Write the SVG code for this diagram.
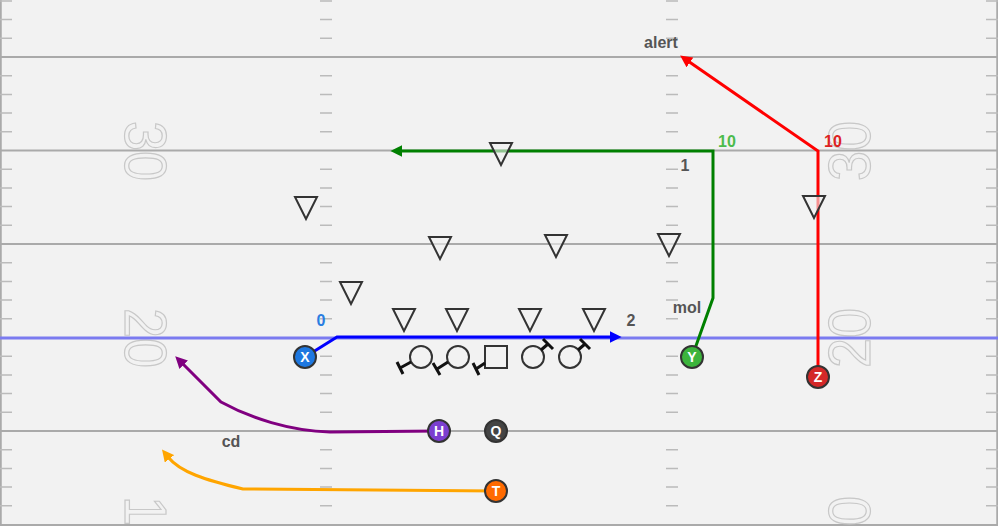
<svg xmlns="http://www.w3.org/2000/svg" width="998" height="526" viewBox="0 0 998 526">
<defs>
<style>
.yard{stroke:#aaaaaa;stroke-width:2;fill:none}
.tick{stroke:#bbbbbb;stroke-width:1.5;fill:none}
.num{font-family:"Liberation Sans",Arial,sans-serif;font-size:60px;fill:none;stroke:#c8c8c8;stroke-width:1.2}
.lbl{font-family:"Liberation Sans",Arial,sans-serif;font-size:16px;font-weight:bold;fill:#555555}
.pl{stroke:#333333;stroke-width:2}
.pt{font-family:"Liberation Sans",Arial,sans-serif;font-size:14px;font-weight:bold;fill:#ffffff;text-anchor:middle}
.ol{fill:none;stroke:#333333;stroke-width:2}
.blk{fill:none;stroke:#111111;stroke-width:3}
.def{fill:#f2f2f2;fill-opacity:0.6;stroke:#333333;stroke-width:2;stroke-linejoin:miter}
.route{fill:none;stroke-width:3;stroke-linejoin:miter}
</style>
<marker id="ab" viewBox="0 0 10 10" refX="2" refY="5" markerWidth="4" markerHeight="4" orient="auto" markerUnits="strokeWidth"><path d="M0,0 L10,5 L0,10 z" fill="#0000ff"/></marker>
<marker id="ag" viewBox="0 0 10 10" refX="2" refY="5" markerWidth="4" markerHeight="4" orient="auto" markerUnits="strokeWidth"><path d="M0,0 L10,5 L0,10 z" fill="#008000"/></marker>
<marker id="ar" viewBox="0 0 10 10" refX="2" refY="5" markerWidth="4" markerHeight="4" orient="auto" markerUnits="strokeWidth"><path d="M0,0 L10,5 L0,10 z" fill="#ff0000"/></marker>
<marker id="ap" viewBox="0 0 10 10" refX="2" refY="5" markerWidth="4" markerHeight="4" orient="auto" markerUnits="strokeWidth"><path d="M0,0 L10,5 L0,10 z" fill="#800080"/></marker>
<marker id="ao" viewBox="0 0 10 10" refX="2" refY="5" markerWidth="4" markerHeight="4" orient="auto" markerUnits="strokeWidth"><path d="M0,0 L10,5 L0,10 z" fill="#ffa500"/></marker>
</defs>
<g id="field">
<rect x="0" y="0" width="998" height="526" fill="#f2f2f2"/>
<path class="yard" d="M0,57 H998 M0,150.5 H998 M0,244 H998 M0,431 H998 M0,525 H998 M0.75,0 V526 M997.25,0 V526"/>
<path class="tick" d="M0,0.9 h12 M0,19.6 h12 M0,38.3 h12 M0,75.7 h12 M0,94.4 h12 M0,113.1 h12 M0,131.8 h12 M0,169.2 h12 M0,187.9 h12 M0,206.6 h12 M0,225.3 h12 M0,262.7 h12 M0,281.4 h12 M0,300.1 h12 M0,318.8 h12 M0,356.2 h12 M0,374.9 h12 M0,393.6 h12 M0,412.3 h12 M0,449.7 h12 M0,468.4 h12 M0,487.1 h12 M0,505.8 h12
M320,0.9 h12 M320,19.6 h12 M320,38.3 h12 M320,75.7 h12 M320,94.4 h12 M320,113.1 h12 M320,131.8 h12 M320,169.2 h12 M320,187.9 h12 M320,206.6 h12 M320,225.3 h12 M320,262.7 h12 M320,281.4 h12 M320,300.1 h12 M320,318.8 h12 M320,356.2 h12 M320,374.9 h12 M320,393.6 h12 M320,412.3 h12 M320,449.7 h12 M320,468.4 h12 M320,487.1 h12 M320,505.8 h12
M666,0.9 h12 M666,19.6 h12 M666,38.3 h12 M666,75.7 h12 M666,94.4 h12 M666,113.1 h12 M666,131.8 h12 M666,169.2 h12 M666,187.9 h12 M666,206.6 h12 M666,225.3 h12 M666,262.7 h12 M666,281.4 h12 M666,300.1 h12 M666,318.8 h12 M666,356.2 h12 M666,374.9 h12 M666,393.6 h12 M666,412.3 h12 M666,449.7 h12 M666,468.4 h12 M666,487.1 h12 M666,505.8 h12
M986,0.9 h12 M986,19.6 h12 M986,38.3 h12 M986,75.7 h12 M986,94.4 h12 M986,113.1 h12 M986,131.8 h12 M986,169.2 h12 M986,187.9 h12 M986,206.6 h12 M986,225.3 h12 M986,262.7 h12 M986,281.4 h12 M986,300.1 h12 M986,318.8 h12 M986,356.2 h12 M986,374.9 h12 M986,393.6 h12 M986,412.3 h12 M986,449.7 h12 M986,468.4 h12 M986,487.1 h12 M986,505.8 h12"/>
<text class="num" transform="translate(125,151) rotate(90)" text-anchor="middle" textLength="60" lengthAdjust="spacingAndGlyphs">30</text>
<text class="num" transform="translate(125,338) rotate(90)" text-anchor="middle" textLength="60" lengthAdjust="spacingAndGlyphs">20</text>
<text class="num" transform="translate(125,526) rotate(90)" text-anchor="middle" textLength="60" lengthAdjust="spacingAndGlyphs">10</text>
<text class="num" transform="translate(870,151) rotate(-90)" text-anchor="middle" textLength="60" lengthAdjust="spacingAndGlyphs">30</text>
<text class="num" transform="translate(870,338) rotate(-90)" text-anchor="middle" textLength="60" lengthAdjust="spacingAndGlyphs">20</text>
<text class="num" transform="translate(870,526) rotate(-90)" text-anchor="middle" textLength="60" lengthAdjust="spacingAndGlyphs">10</text>
<line x1="0" y1="338" x2="998" y2="338" stroke="#7b7bf0" stroke-width="3"/>
</g>
<g id="connectors">
<path id="route-x" class="route" stroke="#0000ff" d="M305,357 L337,337 L612,337" marker-end="url(#ab)"/>
<path id="route-y" class="route" stroke="#008000" d="M692,357 L713,298 L713,151 L400,151" marker-end="url(#ag)"/>
<path id="route-z" class="route" stroke="#ff0000" d="M818,377 L818,151 L688,61" marker-end="url(#ar)"/>
<path id="route-h" class="route" stroke="#800080" d="M439,431 L330,432 C290,431 250,418 221,402 L182,363" marker-end="url(#ap)"/>
<path id="route-t" class="route" stroke="#ffa500" d="M496,491 L243,489 C205,480 180,472 168,457" marker-end="url(#ao)"/>
</g>
<g id="labels">
<text class="lbl" x="321" y="326" text-anchor="middle" fill="#2a7de1" style="fill:#2a7de1">0</text>
<text class="lbl" x="631" y="326" text-anchor="middle">2</text>
<text class="lbl" x="727" y="147" text-anchor="middle" style="fill:#4cbb4c">10</text>
<text class="lbl" x="833" y="147" text-anchor="middle" style="fill:#dd2222">10</text>
<text class="lbl" x="685" y="171" text-anchor="middle">1</text>
<text class="lbl" x="687" y="313" text-anchor="middle">mol</text>
<text class="lbl" x="661" y="48" text-anchor="middle">alert</text>
<text class="lbl" x="231" y="447" text-anchor="middle">cd</text>
</g>
<g id="defense">
<path class="def" d="M295,197 H317 L306,219 Z"/>
<path class="def" d="M490,143 H512 L501,165 Z"/>
<path class="def" d="M429,237 H451 L440,259 Z"/>
<path class="def" d="M545,235 H567 L556,257 Z"/>
<path class="def" d="M658,234 H680 L669,256 Z"/>
<path class="def" d="M803,196 H825 L814,218 Z"/>
<path class="def" d="M340,282 H362 L351,304 Z"/>
<path class="def" d="M393,309 H415 L404,331 Z"/>
<path class="def" d="M446,309 H468 L457,331 Z"/>
<path class="def" d="M519,309 H541 L530,331 Z"/>
<path class="def" d="M583,309 H605 L594,331 Z"/>
</g>
<g id="line">
<g id="lt"><circle class="ol" cx="421" cy="357" r="11"/><path class="blk" d="M411,362 L400,368 M397,362 L403,374"/></g>
<g id="lg"><circle class="ol" cx="458" cy="357" r="11"/><path class="blk" d="M448,362 L437,369 M433,363 L440,375"/></g>
<g id="c"><rect class="ol" x="485" y="346" width="22" height="22"/><path class="blk" d="M485,363 L476,369 M473,363 L479,375"/></g>
<g id="rg"><circle class="ol" cx="533" cy="357" r="11"/><path class="blk" d="M541,350 L548,344 M543,339 L553,349"/></g>
<g id="rt"><circle class="ol" cx="570" cy="357" r="11"/><path class="blk" d="M578,350 L585,344 M580,339 L590,349"/></g>
</g>
<g id="player-x"><circle class="pl" cx="305" cy="357" r="11" fill="#1e78e0"/><text class="pt" x="305" y="362">X</text></g>
<g id="player-y"><circle class="pl" cx="692" cy="357" r="11" fill="#3cb43c"/><text class="pt" x="692" y="362">Y</text></g>
<g id="player-z"><circle class="pl" cx="818" cy="377" r="11" fill="#d42828"/><text class="pt" x="818" y="382">Z</text></g>
<g id="player-h"><circle class="pl" cx="439" cy="431" r="11" fill="#7b3fd0"/><text class="pt" x="439" y="436">H</text></g>
<g id="player-q"><circle class="pl" cx="496" cy="431" r="11" fill="#444444"/><text class="pt" x="496" y="436">Q</text></g>
<g id="player-t"><circle class="pl" cx="496" cy="491" r="11" fill="#ff6a00"/><text class="pt" x="496" y="496">T</text></g>
</svg>
